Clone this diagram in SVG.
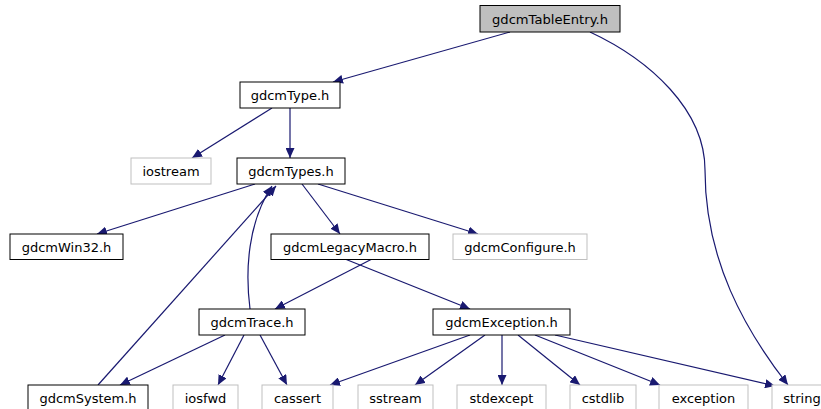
<svg xmlns="http://www.w3.org/2000/svg" width="821" height="409" viewBox="0 0 821 409">
<style>
.n rect{fill:#fff;stroke:#000;stroke-width:1}
.g rect{fill:#fff;stroke:#bfbfbf;stroke-width:1}
.r rect{fill:#bfbfbf;stroke:#000;stroke-width:1}
text{font-family:"DejaVu Sans",sans-serif;font-size:13px;text-anchor:middle;fill:#000}
#edges path{fill:none;stroke:#191970;stroke-width:1.2;marker-end:url(#a)}
</style>
<defs>
<marker id="a" markerWidth="11" markerHeight="9" refX="10" refY="4.5" orient="auto" markerUnits="userSpaceOnUse">
<path d="M0,0 L10,4.5 L0,9 z" fill="#191970"/>
</marker>
</defs>
<rect width="821" height="409" fill="#fff"/>
<g id="edges">
<path d="M510,32 L333,82"/>
<path d="M590,32 C650,60 705,110 705,170 C705,260 745,330 788,385"/>
<path d="M272,108 L192,158"/>
<path d="M290,108 L290,158"/>
<path d="M255,184 L97,234"/>
<path d="M302,184 L340,234"/>
<path d="M318,184 L478,234"/>
<path d="M372,259 L275,309"/>
<path d="M345,259 L470,309"/>
<path d="M250,309 C245,270 248,222 272,186"/>
<path d="M98,385 L276,186"/>
<path d="M225,335 L120,385"/>
<path d="M244,335 L218,385"/>
<path d="M260,335 L287,385"/>
<path d="M470,335 L330,385"/>
<path d="M485,335 L415,385"/>
<path d="M502,335 L502,385"/>
<path d="M518,335 L580,385"/>
<path d="M535,335 L660,385"/>
<path d="M555,335 L775,386"/>
</g>
<g id="gdcmTableEntry" class="r"><rect x="480" y="5.5" width="140" height="26.5"/><text x="550" y="23.5" textLength="116" lengthAdjust="spacingAndGlyphs">gdcmTableEntry.h</text></g>
<g id="gdcmType" class="n"><rect x="240" y="82" width="100" height="26"/><text x="290" y="99.5">gdcmType.h</text></g>
<g id="iostream" class="g"><rect x="131" y="158" width="80" height="26"/><text x="171" y="175.5">iostream</text></g>
<g id="gdcmTypes" class="n"><rect x="237" y="158" width="108" height="26"/><text x="291" y="175.5">gdcmTypes.h</text></g>
<g id="gdcmWin32" class="n"><rect x="10" y="234" width="113" height="25.5"/><text x="66.5" y="251.5">gdcmWin32.h</text></g>
<g id="gdcmLegacyMacro" class="n"><rect x="271" y="234" width="158" height="25.5"/><text x="350" y="251.5">gdcmLegacyMacro.h</text></g>
<g id="gdcmConfigure" class="g"><rect x="453" y="234" width="134" height="25.5"/><text x="520" y="251.5">gdcmConfigure.h</text></g>
<g id="gdcmTrace" class="n"><rect x="199" y="309" width="106" height="26"/><text x="252" y="326.5">gdcmTrace.h</text></g>
<g id="gdcmException" class="n"><rect x="433" y="309" width="137" height="26"/><text x="501.5" y="326.5">gdcmException.h</text></g>
<g id="gdcmSystem" class="n"><rect x="28" y="385" width="120" height="26"/><text x="88" y="402.5">gdcmSystem.h</text></g>
<g id="iosfwd" class="g"><rect x="173" y="385" width="65" height="26"/><text x="205.5" y="402.5">iosfwd</text></g>
<g id="cassert" class="g"><rect x="262" y="385" width="71" height="26"/><text x="297.5" y="402.5">cassert</text></g>
<g id="sstream" class="g"><rect x="358" y="385" width="75" height="26"/><text x="395.5" y="402.5">sstream</text></g>
<g id="stdexcept" class="g"><rect x="457" y="385" width="89" height="26"/><text x="501.5" y="402.5">stdexcept</text></g>
<g id="cstdlib" class="g"><rect x="570" y="385" width="66" height="26"/><text x="603" y="402.5">cstdlib</text></g>
<g id="exception" class="g"><rect x="659" y="385" width="89" height="26"/><text x="703.5" y="402.5">exception</text></g>
<g id="string" class="g"><rect x="772" y="385" width="60" height="26"/><text x="802" y="402.5">string</text></g>
</svg>
